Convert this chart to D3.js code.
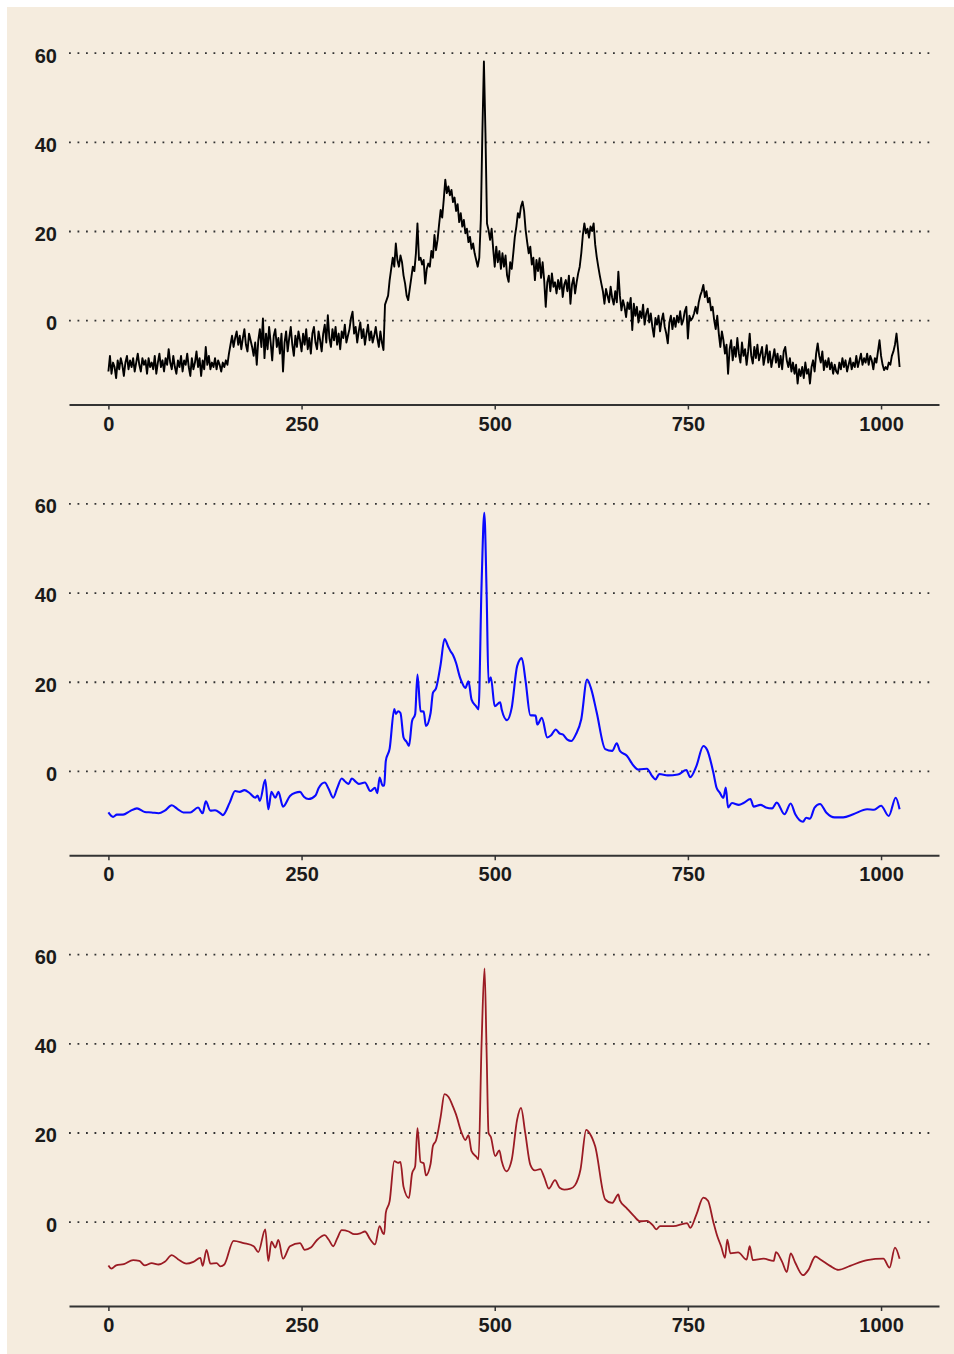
<!DOCTYPE html>
<meta charset="utf-8">
<style>
    body {
        margin: 0;
        background-color: #ffffff;
    }

    .axis text {
        font: bold 20px "Liberation Sans", Arial, sans-serif;
        fill: #1a1a1a;
    }

    .axis--x path,
    .axis--x line {
        stroke: #333;
    }

    .axis--x path {
        stroke-width: 2px;
    }

    .axis--x line {
        stroke-width: 1.5px;
    }

    .axis--y path {
        display: none;
    }

    .axis--y line {
        stroke: #333;
        stroke-width: 1.8px;
        stroke-dasharray: 1.8, 6.7;
    }

    .line {
        fill: none;
        stroke-linejoin: round;
    }
</style>
<svg width="954" height="1354"></svg>

<body>
    <script src="https://d3js.org/d3.v7.min.js"></script>
    <script>
        // axis ticks
        var xTicks = [0, 250, 500, 750, 1000];
        var yTicks = [0, 20, 40, 60];

        // raw signal, one reading every 2 samples (16 per row = 32 samples)
        var rawStep = 2;
        var rawValues = [
            -11.5, -8.0, -12.0, -9.5, -10.5, -13.0, -9.0, -11.0, -8.5, -10.0, -12.5, -9.5, -8.0, -11.0, -9.0, -10.5,
            -8.5, -11.5, -9.5, -7.5, -10.0, -11.5, -8.5, -10.0, -9.0, -12.0, -8.5, -10.5, -9.5, -11.0, -8.0, -12.0,
            -9.5, -7.5, -10.5, -9.0, -11.5, -8.5, -10.0, -6.5, -9.5, -11.0, -8.0, -10.5, -12.0, -9.0, -10.5, -8.0,
            -11.5, -9.0, -10.0, -7.5, -10.5, -12.5, -8.5, -11.0, -9.5, -7.0, -10.5, -8.5, -12.5, -9.0, -11.0, -6.0,
            -10.0, -8.0, -11.0, -9.5, -10.5, -8.5, -11.0, -9.0, -10.0, -11.5, -9.5, -10.5, -9.0, -10.0, -7.5, -5.5,
            -3.5, -6.0, -4.0, -2.5, -5.5, -3.5, -6.5, -4.0, -2.0, -5.5, -7.0, -3.0, -4.5, -6.0, -8.0, -5.0,
            -10.0, -4.5, -2.0, -6.0, 0.4, -8.5, -3.0, -6.5, -1.5, -5.0, -9.0, -3.5, -2.0, -6.0, -4.0, -7.5,
            -3.0, -11.5, -5.0, -2.5, -7.0, -4.0, -1.5, -5.5, -8.0, -3.5, -6.0, -2.5, -4.5, -7.0, -3.0, -5.5,
            -2.0, -6.5, -4.0, -7.5, -3.0, -1.5, -5.0, -6.5, -2.5, -4.5, -7.0, -3.0, -1.0, -5.0, 1.1, -4.0,
            -6.0, -2.0, -4.5, -1.5, -5.5, -3.0, -6.5, -2.5, -4.0, -1.0, -5.0, -3.5, -2.0, 0.5, 1.9, -3.0,
            -1.5, -5.0, -2.5, -0.5, -4.0, -2.0, -5.5, -3.0, -1.0, -4.5, -2.5, -5.0, -3.5, -1.5, -4.0, -6.0,
            -2.5, -5.0, -6.7, 3.5, 4.5, 5.5, 9.0, 11.5, 14.0, 12.0, 17.2, 13.5, 12.0, 14.5, 13.0, 10.0,
            8.2, 5.5, 4.5, 7.0, 9.5, 12.0, 11.0, 15.0, 21.7, 13.5, 14.0, 12.5, 13.5, 8.2, 11.5, 12.7,
            12.0, 15.5, 14.0, 19.1, 15.7, 18.0, 21.5, 24.7, 23.0, 27.0, 31.5, 28.5, 30.0, 28.0, 29.2, 26.5,
            27.5, 24.5, 26.0, 22.0, 24.0, 21.0, 22.5, 19.5, 20.5, 17.5, 18.7, 16.0, 17.2, 15.0, 13.5, 12.0,
            14.0, 22.5, 42.0, 58.0, 42.0, 21.7, 20.2, 18.0, 20.5, 16.0, 12.0, 16.5, 13.0, 15.5, 11.5, 15.0,
            12.0, 14.5, 10.0, 8.6, 13.0, 11.5, 15.0, 18.7, 21.0, 24.0, 23.0, 25.5, 26.6, 24.5, 20.2, 17.5,
            15.0, 16.5, 12.5, 14.0, 9.0, 13.5, 11.0, 13.9, 9.5, 13.0, 9.0, 3.0, 8.5, 10.0, 6.5, 10.5,
            7.5, 8.5, 6.0, 9.0, 7.0, 9.5, 5.2, 8.0, 9.0, 6.5, 10.0, 3.7, 8.0, 9.5, 6.0, 8.5,
            10.5, 12.0, 15.0, 19.0, 21.7, 19.5, 20.5, 18.5, 21.0, 20.0, 21.7, 17.0, 14.2, 12.0, 10.0, 8.2,
            6.5, 3.7, 7.0, 5.5, 4.0, 7.5, 5.0, 3.5, 6.5, 4.0, 10.9, 5.5, 2.2, 4.5, 3.0, 0.7,
            4.0, 2.5, 5.0, -2.2, 3.7, 1.0, 3.0, -0.5, 2.0, 0.5, 3.5, -1.0, 1.5, 2.6, -0.5, 1.5,
            -1.5, -3.7, 0.5, -1.0, 1.0, -2.5, 0.0, 1.5, -1.5, -3.0, -5.2, -0.5, 1.0, -2.0, 0.5, -1.5,
            1.0, -0.5, 2.0, -1.0, 0.0, 2.0, 3.0, -4.1, 1.0, 0.0, 0.5, 1.5, 3.0, 1.5, 4.0, 5.5,
            6.5, 7.9, 5.2, 6.5, 4.0, 5.0, 2.2, 3.0, 0.0, -2.0, 1.0, -3.0, -6.0, -2.5, -4.5, -7.5,
            -5.5, -12.0, -6.5, -4.5, -9.0, -6.0, -8.2, -4.0, -7.5, -9.5, -5.0, -8.0, -6.5, -10.0, -7.0, -3.0,
            -8.0, -9.7, -6.0, -8.5, -5.5, -9.0, -7.5, -6.0, -10.0, -8.0, -5.6, -9.5, -7.0, -10.5, -8.5, -6.5,
            -9.5, -7.5, -10.5, -8.0, -11.0, -7.0, -6.0, -9.0, -10.5, -8.5, -11.5, -9.5, -12.0, -10.0, -14.2, -11.0,
            -12.5, -10.5, -13.0, -9.5, -12.0, -11.0, -14.2, -10.5, -9.0, -11.5, -7.5, -5.2, -8.0, -9.5, -7.0, -11.2,
            -9.0, -10.5, -8.5, -11.0, -9.5, -12.0, -10.0, -11.5, -12.0, -9.5, -11.0, -8.5, -10.5, -9.0, -11.5, -10.0,
            -8.5, -11.0, -9.5, -10.5, -8.0, -10.5, -9.0, -7.5, -10.0, -8.5, -9.5, -7.5, -10.0, -8.0, -9.0, -11.0,
            -8.5, -9.5, -7.0, -4.5, -8.0, -10.0, -11.2, -10.5, -11.0, -9.5, -10.0, -8.0, -7.0, -5.5, -3.0, -6.5,
            -10.5
        ];

        // smoothed signal (blue), [sample, value]
        var smoothBlue = [
            [0, -9.3], [6, -10.3], [11, -9.8], [19, -9.8], [28, -9.0], [37, -8.4], [47, -9.2], [56, -9.3],
            [65, -9.5], [73, -8.9], [82, -7.7], [90, -8.6], [97, -9.3], [106, -9.3], [116, -8.2], [122, -9.5],
            [126, -6.8], [132, -8.9], [138, -8.8], [145, -9.5], [148, -9.9], [157, -7.1], [164, -4.5], [170, -4.7],
            [176, -4.3], [183, -5.0], [190, -6.0], [193, -5.5], [196, -6.7], [203, -2.0], [207, -8.6], [211, -4.7],
            [216, -6.0], [220, -4.7], [226, -8.0], [235, -5.6], [242, -4.9], [248, -4.7], [253, -5.8], [259, -6.3],
            [268, -5.5], [272, -3.9], [280, -2.6], [285, -4.0], [291, -6.0], [296, -3.9], [302, -1.7], [306, -2.3],
            [311, -2.9], [315, -1.7], [320, -2.4], [324, -2.9], [332, -2.6], [339, -4.5], [345, -3.8], [348, -5.0],
            [351, -1.5], [355, -3.3], [357, -3.2], [359, 2.2], [364, 5.0], [370, 13.9], [372, 12.8], [375, 13.4],
            [378, 13.0], [382, 7.5], [386, 6.5], [389, 5.6], [393, 11.2], [397, 12.7], [400, 21.6], [404, 13.4],
            [408, 13.3], [411, 10.1], [417, 13.0], [420, 17.5], [424, 18.5], [430, 23.9], [435, 29.6], [440, 27.8],
            [443, 26.8], [446, 26.0], [450, 24.2], [455, 21.0], [457, 20.1], [462, 18.6], [466, 20.1], [470, 16.0],
            [476, 14.5], [479, 13.8], [483, 42.0], [486.5, 57.9], [489.5, 39.9], [492, 19.8], [495, 21.0], [500, 14.5],
            [507, 15.4], [509, 13.8], [516, 11.4], [522, 14.2], [529, 23.5], [535, 25.3], [540, 20.1], [546, 12.5],
            [553, 12.4], [555, 10.4], [561, 11.9], [568, 7.5], [573, 8.0], [579, 9.3], [584, 8.4], [588, 8.2],
            [594, 7.0], [599, 6.7], [605, 8.2], [612, 11.6], [619.5, 20.5], [625, 18.3], [632, 13.1], [643, 4.9],
            [652, 4.5], [658, 6.2], [662, 4.5], [671, 3.4], [680, 1.1], [686, 0.3], [689, 0.4], [697, 0.5],
            [704, -1.2], [708, -1.9], [713, -0.7], [724, -1.0], [737, -0.8], [748, 0.2], [753, -1.4], [761, 1.1],
            [770, 5.6], [775, 4.7], [783, -0.4], [787, -3.7], [791, -4.8], [796, -6.0], [799, -3.7], [802, -8.2],
            [807, -7.2], [816, -7.6], [822, -7.2], [831, -6.3], [835, -8.0], [844, -7.6], [851, -8.2], [859, -8.4],
            [865, -7.1], [875, -9.7], [883, -7.3], [889, -9.7], [899, -11.4], [903, -10.5], [908, -10.7], [914, -8.2],
            [921, -7.4], [929, -9.3], [940, -10.4], [951, -10.4], [964, -9.7], [982, -8.6], [991, -8.7], [1000, -7.8],
            [1010, -10.1], [1019, -6.0], [1024, -8.6]
        ];

        // smoothed signal (red), [sample, value]
        var smoothRed = [
            [0, -9.8], [4, -10.5], [10, -9.8], [20, -9.5], [32, -8.6], [40, -8.8], [47, -9.8], [56, -9.3],
            [65, -9.6], [73, -9.0], [82, -7.5], [90, -8.4], [101, -9.4], [110, -9.0], [119, -8.1], [122, -9.9],
            [127, -6.3], [132, -9.4], [140, -9.3], [145, -10.0], [150, -9.6], [162, -4.3], [175, -4.8], [188, -5.5],
            [194, -6.8], [203, -1.7], [207, -8.8], [211, -4.5], [216, -5.8], [220, -4.1], [226, -8.3], [235, -5.5],
            [248, -4.8], [254, -6.3], [262, -5.8], [270, -4.1], [280, -3.0], [285, -4.0], [291, -5.5], [296, -3.8],
            [302, -1.9], [311, -2.2], [318, -2.8], [326, -2.6], [332, -2.2], [339, -4.0], [345, -5.1], [351, -1.0],
            [355, -2.5], [357, -2.8], [359, 2.0], [364, 4.6], [370, 13.6], [375, 13.2], [378, 13.4], [382, 7.8],
            [389, 5.3], [393, 10.8], [397, 12.4], [400, 21.0], [404, 13.4], [408, 13.1], [411, 10.4], [417, 13.0],
            [420, 17.0], [424, 18.2], [430, 23.5], [435, 28.6], [440, 28.0], [446, 25.8], [450, 24.0], [457, 20.0],
            [462, 18.3], [466, 19.4], [470, 15.8], [476, 14.6], [479, 14.0], [483, 40.0], [486.8, 56.8], [489.5, 38.0],
            [492, 19.9], [495, 19.0], [500.6, 14.7], [506, 16.0], [509, 13.6], [515, 11.3], [522, 13.9], [529, 22.9],
            [534, 25.5], [539.5, 19.9], [546, 12.8], [552, 11.5], [559, 11.8], [564, 10.0], [570, 7.4], [578, 9.3],
            [584, 7.6], [590, 7.2], [598, 7.4], [604, 8.2], [611, 11.7], [618.4, 20.6], [623, 19.8], [630, 16.9],
            [643, 5.0], [652, 4.2], [660, 6.1], [662, 4.8], [671, 3.0], [680, 1.3], [688, 0.1], [697, 0.2],
            [705, -0.9], [709, -1.7], [714, -1.0], [731, -1.0], [749, -0.3], [753, -1.4], [761, 1.6], [770, 5.4],
            [776, 4.7], [783, -0.1], [788, -3.2], [793, -5.5], [798, -8.1], [801, -4.0], [805, -7.1], [815, -6.9],
            [826, -8.5], [830, -5.5], [834, -8.6], [848, -8.3], [861, -8.8], [864, -6.8], [872, -9.0], [878, -11.3],
            [883, -7.1], [889, -9.2], [899, -12.0], [906, -10.8], [915, -7.8], [921, -8.4], [934, -9.9], [945, -10.8],
            [960, -9.9], [982, -8.6], [1003, -8.3], [1011, -10.3], [1018, -5.8], [1024, -8.3]
        ];

        var rawSeries = rawValues.map(function (v, i) {
            return [i * rawStep, v];
        });

        var panels = [
            { data: rawSeries, colour: "#000000", width: 1.9, curve: d3.curveLinear },
            { data: smoothBlue, colour: "#0a0aff", width: 2.1, curve: d3.curveMonotoneX },
            { data: smoothRed, colour: "#9b1b24", width: 1.8, curve: d3.curveMonotoneX }
        ];

        var svg = d3.select("svg");

        svg.append("rect")
            .attr("x", 7)
            .attr("y", 7)
            .attr("width", 947)
            .attr("height", 1347)
            .attr("fill", "#F5ECDE");

        var x = d3.scaleLinear().domain([-51, 1075]).range([69, 939]);
        var y = d3.scaleLinear().domain([0, 60]).range([320.2, 52.6]);
        var gridRight = 936,
            panelGap = 450.75;

        panels.forEach(function (p, i) {
            var g = svg.append("g")
                .attr("transform", "translate(0," + (i * panelGap) + ")");

            g.append("g")
                .attr("class", "axis axis--y")
                .attr("transform", "translate(69,0)")
                .call(d3.axisLeft(y).tickValues(yTicks).tickSize(-(gridRight - 69)).tickPadding(12))
                .selectAll("text")
                .attr("dy", "0.47em");

            g.append("g")
                .attr("class", "axis axis--x")
                .attr("transform", "translate(0," + y(-18.9) + ")")
                .call(d3.axisBottom(x).tickValues(xTicks).tickFormat(d3.format("d"))
                    .tickSize(5).tickSizeOuter(0).tickPadding(7));

            var line = d3.line()
                .curve(p.curve)
                .x(function (d) { return x(d[0]); })
                .y(function (d) { return y(d[1]); });

            g.append("path")
                .datum(p.data)
                .attr("class", "line")
                .attr("stroke", p.colour)
                .attr("stroke-width", p.width)
                .attr("d", line);
        });
    </script>
</body>
